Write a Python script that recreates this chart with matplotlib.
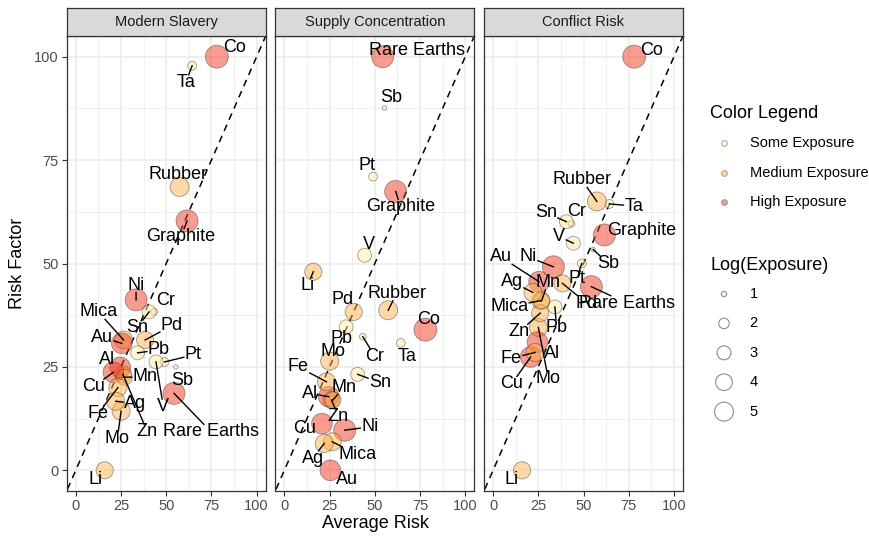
import matplotlib
matplotlib.use("Agg")
import matplotlib.pyplot as plt
import numpy as np

plt.rcParams['font.family'] = ['Liberation Sans', 'DejaVu Sans']

# risk scores per material (0-100) for each risk dimension
elements = ["Co", "Ta", "Rubber", "Graphite", "Rare Earths", "Sb", "Pt", "V", "Cr", "Sn",
            "Pd", "Pb", "Ni", "Mica", "Au", "Mo", "Zn", "Al", "Mn", "Cu", "Fe", "Ag", "Li"]
modern_slavery = [100, 97.8, 68.5, 60.3, 18.6, 25, 26.2, 26.2, 38.3, 38.3,
                  31.5, 28.4, 41.2, 31.5, 30.7, 14.3, 23.2, 24.9, 22.5, 23.7, 20, 16.7, 0]
supply_concentration = [34, 30.8, 38.7, 67.4, 100, 87.6, 71, 52, 32.3, 23.2,
                        38.3, 34.7, 9.7, 6.9, 0, 26.4, 17, 17.8, 17, 11.3, 21.4, 6.5, 48]
conflict_risk = [100, 64.4, 65, 56.9, 44.4, 53.4, 50, 54.9, 59.6, 60.1,
                 45.2, 39.5, 49.2, 41, 45.6, 34.5, 38, 31, 41, 27.4, 28.5, 43, 0]
log_exposure = [7.0, 1.6, 5.0, 6.5, 6.5, 0.9, 1.6, 3.0, 1.2, 3.0,
                4.2, 3.0, 6.5, 4.6, 5.8, 4.6, 4.2, 5.8, 3.8, 5.8, 4.6, 4.6, 4.2]
exposure_level = ["High", "Some", "Medium", "High", "High", "Some", "Some", "Some", "Some", "Some",
                  "Medium", "Some", "High", "Medium", "High", "Medium", "Medium", "High", "Medium",
                  "High", "Medium", "Medium", "Medium"]

facets = ["Modern Slavery", "Supply Concentration", "Conflict Risk"]
level_keys = ["Some", "Medium", "High"]
level_labels = ["Some Exposure", "Medium Exposure", "High Exposure"]
level_colors = {"Some": "#FFEDA0", "Medium": "#FEB24C", "High": "#F03B20"}
size_breaks = [1, 2, 3, 4, 5]

facet_values = {
    "Modern Slavery": modern_slavery,
    "Supply Concentration": supply_concentration,
    "Conflict Risk": conflict_risk,
}
average_risk = np.mean([modern_slavery, supply_concentration, conflict_risk], axis=0)

# repelled label positions (data units) for each facet
label_pos = {
    "Modern Slavery": {
        "Co": (88, 102.1), "Ta": (60.9, 93.8), "Rubber": (56.5, 71.6), "Graphite": (58.2, 56.6),
        "Ni": (33.3, 44.8), "Cr": (49.8, 41.0), "Mica": (12.5, 38.3), "Sn": (34, 34.5),
        "Pd": (53.2, 35.0), "Au": (14.5, 32.2), "Pb": (46.0, 29.1), "Pt": (65, 27.9),
        "Al": (17.1, 26.7), "Mn": (38.3, 22.6), "Sb": (58.6, 21.7), "Cu": (9.7, 20.2),
        "Ag": (32.8, 16.2), "V": (48.4, 15.4), "Fe": (12.5, 13.8), "Zn": (39.6, 9.3),
        "Rare Earths": (74.8, 9.3), "Mo": (23, 7.7), "Li": (11.2, -2.3),
    },
    "Supply Concentration": {
        "Rare Earths": (73.3, 101.6), "Sb": (58.8, 90.2), "Pt": (45.5, 73.8), "Graphite": (64.3, 63.7),
        "V": (47, 54.5), "Li": (12.7, 44.6), "Pd": (32.2, 41.2), "Rubber": (62.1, 42.8),
        "Co": (79.6, 36.5), "Pb": (31.7, 31.9), "Mo": (27.1, 28.7), "Cr": (50.1, 27.5),
        "Ta": (68, 27.6), "Fe": (7.7, 25), "Sn": (52.9, 21.2), "Al": (14.2, 18.6),
        "Mn": (33, 20.1), "Zn": (29.9, 13), "Cu": (10.9, 10.2), "Ni": (47.3, 10.5),
        "Ag": (15.7, 2.9), "Mica": (40.3, 3.9), "Au": (34.5, -2.3),
    },
    "Conflict Risk": {
        "Co": (87.7, 101.6), "Rubber": (49.1, 70.2), "Ta": (77.9, 63.9), "Sn": (29.2, 62.3),
        "Cr": (46.2, 62.5), "V": (36.6, 56.5), "Graphite": (82.1, 57.9), "Sb": (63.7, 50),
        "Au": (4.2, 51.6), "Ni": (19.5, 51.6), "Ag": (10.3, 45.6), "Mn": (30.5, 45.4),
        "Pt": (46.2, 46.4), "Pd": (51.8, 40.4), "Rare Earths": (74, 40.4), "Mica": (8.9, 39.6),
        "Pb": (35.1, 34.6), "Zn": (14.5, 33.5), "Al": (32.4, 28.3), "Fe": (10.2, 27.1),
        "Mo": (30.5, 22.2), "Cu": (10.3, 20.9), "Li": (10.3, -2.3),
    },
}


def marker_area(v):
    # diameter in pixels grows with sqrt of the value, converted to points^2
    d = np.sqrt(np.maximum(83 * np.asarray(v, dtype=float) - 55, 4))
    return (0.72 * d) ** 2


W, H = 869, 538
fig = plt.figure(figsize=(W / 100, H / 100), dpi=100)


def frac(x, y, w, h):
    return [x / W, 1 - (y + h) / H, w / W, h / H]


panel_left = [66.7, 275.3, 484.0]
panel_w = 199
panel_top, panel_bottom = 36, 491
strip_top = 7.5

fills = [level_colors[l] for l in exposure_level]
sizes = marker_area(log_exposure)

axes = []
for i, name in enumerate(facets):
    ax = fig.add_axes(frac(panel_left[i], panel_top, panel_w, panel_bottom - panel_top))
    axes.append(ax)
    ax.set_xlim(-5, 105)
    ax.set_ylim(-5, 105)
    ax.set_xticks([0, 25, 50, 75, 100])
    ax.set_yticks([0, 25, 50, 75, 100])
    ax.set_xticks([12.5, 37.5, 62.5, 87.5], minor=True)
    ax.set_yticks([12.5, 37.5, 62.5, 87.5], minor=True)
    ax.grid(which="major", color="#EBEBEB", lw=1.1)
    ax.grid(which="minor", color="#EBEBEB", lw=0.55)
    ax.set_axisbelow(True)
    ax.tick_params(which="major", length=3.3, width=0.8, color="#333333",
                   labelcolor="#4D4D4D", labelsize=10.5, pad=2.5)
    ax.tick_params(which="minor", length=0)
    if i > 0:
        ax.tick_params(axis="y", which="major", length=0, labelleft=False)
    for sp in ax.spines.values():
        sp.set_color("#333333")
        sp.set_linewidth(0.9)

    ax.plot([-10, 110], [-10, 110], color="black", lw=1.1, ls=(0, (4.5, 3.5)), zorder=2)

    yv = facet_values[name]
    ax.scatter(average_risk, yv, s=sizes, c=fills, alpha=0.5,
               edgecolors="#3A3A3A", linewidths=0.6, zorder=3)

    # strip on top of the panel
    sax = fig.add_axes(frac(panel_left[i], strip_top, panel_w, panel_top - strip_top))
    sax.set_facecolor("#D9D9D9")
    sax.set_xticks([])
    sax.set_yticks([])
    for sp in sax.spines.values():
        sp.set_color("#333333")
        sp.set_linewidth(0.9)
    sax.text(0.5, 0.48, name, ha="center", va="center", fontsize=10.5,
             color="#1A1A1A", transform=sax.transAxes)

# labels with leader segments
fig.canvas.draw()
renderer = fig.canvas.get_renderer()
for i, name in enumerate(facets):
    ax = axes[i]
    yv = facet_values[name]
    texts = []
    for j, el in enumerate(elements):
        lx, ly = label_pos[name][el]
        t = ax.text(lx, ly, el, ha="center", va="center", fontsize=13, color="black", zorder=5)
        texts.append((t, average_risk[j], yv[j]))
    inv = ax.transData.inverted()
    for t, px, py in texts:
        bb = t.get_window_extent(renderer=renderer)
        cx, cy = (bb.x0 + bb.x1) / 2, (bb.y0 + bb.y1) / 2
        hw, hh = bb.width / 2 + 1, bb.height / 2 - 1
        p = ax.transData.transform((px, py))
        dx, dy = p[0] - cx, p[1] - cy
        tx = hw / abs(dx) if dx != 0 else np.inf
        ty = hh / abs(dy) if dy != 0 else np.inf
        tt = min(tx, ty)
        if tt >= 1:
            continue
        ex, ey = cx + tt * dx, cy + tt * dy
        if np.hypot(p[0] - ex, p[1] - ey) < 7:
            continue
        a = inv.transform((p[0], p[1]))
        b = inv.transform((ex, ey))
        ax.plot([a[0], b[0]], [a[1], b[1]], color="black", lw=1.0, zorder=4)

fig.text(375 / W, 1 - 523 / H, "Average Risk", ha="center", va="center", fontsize=13)
fig.text(18 / W, 1 - 263.5 / H, "Risk Factor", ha="center", va="center", fontsize=13, rotation=90)

# legends drawn in pixel coordinates
lax = fig.add_axes([0, 0, 1, 1], zorder=10)
lax.set_xlim(0, W)
lax.set_ylim(H, 0)
lax.axis("off")
lax.patch.set_alpha(0)

lax.text(710, 113, "Color Legend", ha="left", va="center", fontsize=13)
for k, (key, lab) in enumerate(zip(level_keys, level_labels)):
    yk = 143.3 + k * 29.2
    lax.scatter([723.5], [yk], s=(0.72 * 5.8) ** 2, c=[level_colors[key]], alpha=0.5,
                edgecolors="#3A3A3A", linewidths=0.6)
    lax.text(749.5, yk, lab, ha="left", va="center", fontsize=10.5)

lax.text(710, 265, "Log(Exposure)", ha="left", va="center", fontsize=13)
for k, v in enumerate(size_breaks):
    yk = 294 + k * 29.4
    lax.scatter([724], [yk], s=marker_area(v), facecolors="none",
                edgecolors="black", alpha=0.45, linewidths=0.8)
    lax.text(749.5, yk, str(v), ha="left", va="center", fontsize=10.5)

fig.savefig("out.png", dpi=100)
